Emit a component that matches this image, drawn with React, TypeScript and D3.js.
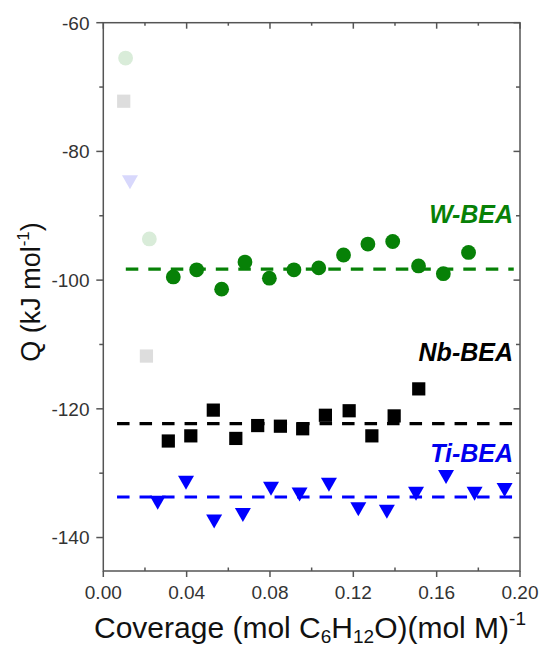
import React from "react";
import * as d3 from "d3";

// ---- data ----
const wX = [0.0336, 0.0448, 0.0568, 0.068, 0.0797, 0.0915, 0.1034, 0.1153, 0.127, 0.1389, 0.1513, 0.1632, 0.1753];
const wY = [-99.5, -98.4, -101.4, -97.2, -99.7, -98.4, -98.1, -96.1, -94.4, -94.0, -97.8, -99.0, -95.7];
const wFadedX = [0.0107, 0.0221];
const wFadedY = [-65.5, -93.6];
const wMean = -98.3;

const nbX = [0.0312, 0.042, 0.0528, 0.0636, 0.0741, 0.085, 0.0957, 0.1066, 0.118, 0.1289, 0.1396, 0.1514];
const nbY = [-125.0, -124.2, -120.2, -124.6, -122.6, -122.7, -123.1, -121.0, -120.3, -124.2, -121.1, -116.9];
const nbFadedX = [0.0098, 0.0207];
const nbFadedY = [-72.2, -111.8];
const nbMean = -122.3;

const tiX = [0.0261, 0.0397, 0.0532, 0.067, 0.0805, 0.0942, 0.1083, 0.1224, 0.1361, 0.1501, 0.1645, 0.1782, 0.1926];
const tiY = [-134.6, -131.5, -137.5, -136.5, -132.4, -133.3, -131.8, -135.6, -136.0, -133.2, -130.6, -133.2, -132.6];
const tiFadedX = [0.0128];
const tiFadedY = [-84.8];
const tiMean = -133.7;

const meanStartW = 0.0108;
const meanStartOther = 0.0066;
const meanEnd = 0.197;

const xTicks = [0, 0.04, 0.08, 0.12, 0.16, 0.2];
const xMinor = [0.02, 0.06, 0.1, 0.14, 0.18];
const yTicks = [-140, -120, -100, -80, -60];
const yMinor = [-130, -110, -90, -70];

const FONT = "'Liberation Sans', Arial, sans-serif";

export default function App() {
  const L = 103.3, R = 520, T = 22.7, B = 571;
  const x = d3.scaleLinear().domain([0, 0.2]).range([L, R]);
  const y = d3.scaleLinear().domain([-145.2, -60]).range([B, T]);
  const fmt = d3.format(".2f");
  const axisColor = "#555";

  const green = "#078107";
  const blue = "#0000ff";

  const tri = (cx: number, cy: number) => {
    const w = 8, h = 7;
    return `M${cx - w},${cy - h}L${cx + w},${cy - h}L${cx},${cy + h}Z`;
  };

  return (
    <svg width={540} height={648} style={{ position: "absolute", left: 0, top: 0, background: "#fff" }} fontFamily={FONT}>
      <rect x={0} y={0} width={540} height={648} fill="#fff" />
      {/* faded points */}
      {wFadedX.map((v, i) => (
        <circle key={"wf" + i} cx={x(v)} cy={y(wFadedY[i])} r={7.4} fill="#d9ecd9" />
      ))}
      {nbFadedX.map((v, i) => (
        <rect key={"nf" + i} x={x(v) - 6.6} y={y(nbFadedY[i]) - 6.6} width={13.2} height={13.2} fill="#dddddd" />
      ))}
      {tiFadedX.map((v, i) => (
        <path key={"tf" + i} d={tri(x(v), y(tiFadedY[i]))} fill="#d8d8fc" />
      ))}

      {/* mean lines */}
      <line x1={x(meanStartW)} x2={x(meanEnd)} y1={y(wMean)} y2={y(wMean)} stroke={green} strokeWidth={3.2} strokeDasharray="12.5 10" />
      <line x1={x(meanStartOther)} x2={x(meanEnd)} y1={y(nbMean)} y2={y(nbMean)} stroke="#000" strokeWidth={3.2} strokeDasharray="12.5 10" />
      <line x1={x(meanStartOther)} x2={x(meanEnd)} y1={y(tiMean)} y2={y(tiMean)} stroke={blue} strokeWidth={3.2} strokeDasharray="12.5 10" />

      {/* data */}
      {wX.map((v, i) => (
        <circle key={"w" + i} cx={x(v)} cy={y(wY[i])} r={7.4} fill={green} />
      ))}
      {nbX.map((v, i) => (
        <rect key={"n" + i} x={x(v) - 6.6} y={y(nbY[i]) - 6.6} width={13.2} height={13.2} fill="#000" />
      ))}
      {tiX.map((v, i) => (
        <path key={"t" + i} d={tri(x(v), y(tiY[i]))} fill={blue} />
      ))}

      {/* frame */}
      <rect x={L} y={T} width={R - L} height={B - T} fill="none" stroke={axisColor} strokeWidth={1.5} />

      {/* x ticks */}
      {xTicks.map((t) => (
        <g key={"xt" + t}>
          <line x1={x(t)} x2={x(t)} y1={B} y2={B + 6} stroke={axisColor} strokeWidth={1.5} />
          <line x1={x(t)} x2={x(t)} y1={T} y2={T + 6} stroke={axisColor} strokeWidth={1.5} />
          <text x={x(t)} y={598.5} textAnchor="middle" fontSize={19} fill="#333">{fmt(t)}</text>
        </g>
      ))}
      {xMinor.map((t) => (
        <g key={"xm" + t}>
          <line x1={x(t)} x2={x(t)} y1={B} y2={B - 3.5} stroke={axisColor} strokeWidth={1.5} />
          <line x1={x(t)} x2={x(t)} y1={T} y2={T + 3} stroke={axisColor} strokeWidth={1.5} />
        </g>
      ))}

      {/* y ticks */}
      {yTicks.map((t) => (
        <g key={"yt" + t}>
          <line x1={L} x2={L - 7} y1={y(t)} y2={y(t)} stroke={axisColor} strokeWidth={1.5} />
          <line x1={R} x2={R - 6.5} y1={y(t)} y2={y(t)} stroke={axisColor} strokeWidth={1.5} />
          <text x={89.5} y={y(t)} dy="0.36em" textAnchor="end" fontSize={19} fill="#333">{String(t)}</text>
        </g>
      ))}
      {yMinor.map((t) => (
        <g key={"ym" + t}>
          <line x1={L} x2={L - 4} y1={y(t)} y2={y(t)} stroke={axisColor} strokeWidth={1.5} />
          <line x1={R} x2={R - 4} y1={y(t)} y2={y(t)} stroke={axisColor} strokeWidth={1.5} />
        </g>
      ))}

      {/* series labels */}
      <text x={513} y={223} textAnchor="end" fontSize={25} fontWeight="bold" fontStyle="italic" fill={green}>W-BEA</text>
      <text x={513} y={361} textAnchor="end" fontSize={25} fontWeight="bold" fontStyle="italic" fill="#000">Nb-BEA</text>
      <text x={513} y={462} textAnchor="end" fontSize={25} fontWeight="bold" fontStyle="italic" fill="#0000ee">Ti-BEA</text>

      {/* axis titles */}
      <text transform="translate(40,292) rotate(-90)" textAnchor="middle" fontSize={27} fill="#111">
        Q (kJ mol<tspan fontSize={17} dy={-11}>-1</tspan><tspan dy={11}>)</tspan>
      </text>
      <text x={310} y={638} textAnchor="middle" fontSize={30} fill="#111">
        Coverage (mol C<tspan fontSize={19} dy={5}>6</tspan><tspan dy={-5}>H</tspan><tspan fontSize={19} dy={5}>12</tspan><tspan dy={-5}>O)(mol M)</tspan><tspan fontSize={19} dy={-13}>-1</tspan>
      </text>
    </svg>
  );
}
